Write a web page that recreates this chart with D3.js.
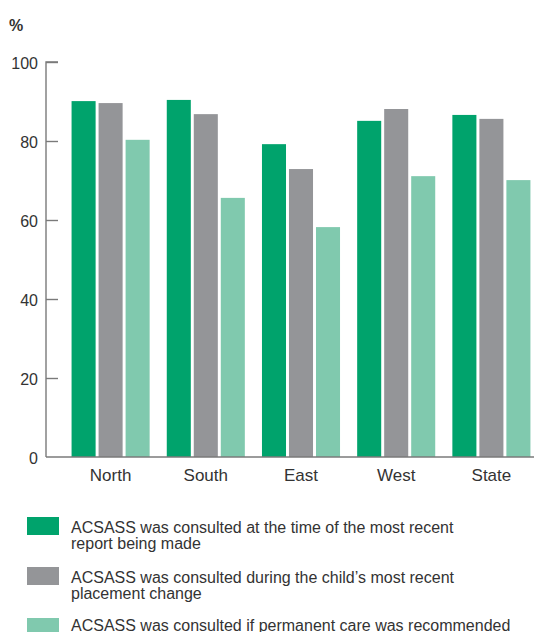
<!DOCTYPE html>
<html>
<head>
<meta charset="utf-8">
<script src="https://cdn.jsdelivr.net/npm/d3@7"></script>
<style>
  body { margin: 0; background: #fff; }
  svg { display: block; font-family: "Liberation Sans", Arial, sans-serif; }
</style>
</head>
<body>
<svg id="chart" width="534" height="632"></svg>
<script>
const categories = ["North", "South", "East", "West", "State"];
const seriesNames = [
  "ACSASS was consulted at the time of the most recent report being made",
  "ACSASS was consulted during the child\u2019s most recent placement change",
  "ACSASS was consulted if permanent care was recommended"
];
const legendLines = [
  ["ACSASS was consulted at the time of the most recent", "report being made"],
  ["ACSASS was consulted during the child\u2019s most recent", "placement change"],
  ["ACSASS was consulted if permanent care was recommended"]
];
const atReport = [90.1, 90.4, 79.2, 85.1, 86.6];
const placementChange = [89.6, 86.8, 72.9, 88.1, 85.6];
const permanentCare = [80.3, 65.6, 58.2, 71.1, 70.1];
const seriesValues = [atReport, placementChange, permanentCare];
const colors = ["#00a36c", "#949598", "#80c9ae"];
const yTicks = [0, 20, 40, 60, 80, 100];

const svg = d3.select("#chart");
const textColor = "#333";
const axisColor = "#7a7a7a";

const y = d3.scaleLinear().domain([0, 100]).range([457, 62]);
const x0 = d3.scaleBand().domain(categories).range([63, 539]).paddingInner(0.18).paddingOuter(0.09);
const x1 = d3.scaleBand().domain(d3.range(seriesNames.length)).range([0, x0.bandwidth()]).paddingInner(0.11);

// bars
const groups = svg.append("g").selectAll("g").data(categories).join("g")
  .attr("transform", d => `translate(${x0(d)},0)`);
groups.selectAll("rect")
  .data((c, ci) => seriesValues.map((s, si) => ({ si, v: s[ci] })))
  .join("rect")
  .attr("x", d => x1(d.si))
  .attr("width", x1.bandwidth())
  .attr("y", d => y(d.v))
  .attr("height", d => y(0) - y(d.v))
  .attr("fill", d => colors[d.si]);

// y axis
const yAxis = d3.axisRight(y).tickValues(yTicks).tickSize(12).tickFormat("");
const ya = svg.append("g").attr("transform", "translate(46,0)").call(yAxis);
ya.select(".domain").attr("stroke", axisColor).attr("stroke-width", 1.4).attr("d", `M12,${y(100)}H0V${y(0)}`);
ya.selectAll(".tick line").attr("stroke", axisColor).attr("stroke-width", 1.4);
ya.selectAll(".tick").filter(d => d === 0).select("line").remove();

svg.append("g").selectAll("text").data(yTicks).join("text")
  .attr("x", 38).attr("y", d => y(d) + 3)
  .attr("text-anchor", "end").attr("dominant-baseline", "middle")
  .attr("font-size", 16).attr("fill", textColor)
  .text(d => d);

// x axis baseline
const xAxis = d3.axisBottom(x0).tickSize(0);
const xa = svg.append("g").attr("transform", `translate(0,${y(0)})`).call(xAxis);
xa.select(".domain").attr("stroke", axisColor).attr("stroke-width", 1.4).attr("d", `M46,0H534`);
xa.selectAll(".tick text").attr("font-size", 17).attr("fill", textColor)
  .attr("y", 24).attr("dy", 0)
  .attr("font-family", "Liberation Sans, Arial, sans-serif");

// % label
svg.append("text").attr("x", 9).attr("y", 31).attr("font-size", 16).attr("font-weight", "bold")
  .attr("fill", textColor).text("%");

// legend
const legendTop = [517, 567, 618];
const lg = svg.append("g").selectAll("g").data(seriesNames).join("g")
  .attr("transform", (d, i) => `translate(0,${legendTop[i]})`);
lg.append("rect").attr("x", 27).attr("y", 0).attr("width", 32).attr("height", 18)
  .attr("fill", (d, i) => colors[i]);
lg.append("text").attr("x", 71).attr("y", (d, i) => i === 2 ? 13 : 15.5).attr("font-size", 16).attr("fill", textColor)
  .selectAll("tspan").data((d, i) => legendLines[i]).join("tspan")
  .attr("x", 71).attr("dy", (d, j) => j === 0 ? 0 : 16.5)
  .text(d => d);
</script>
</body>
</html>
